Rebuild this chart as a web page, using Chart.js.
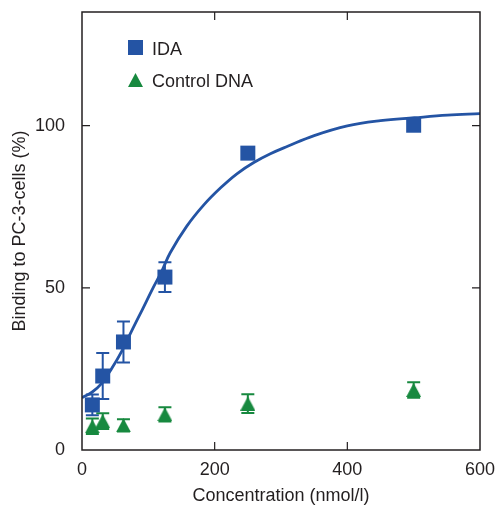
<!DOCTYPE html>
<html>
<head>
<meta charset="utf-8">
<script src="https://cdn.jsdelivr.net/npm/chart.js@4"></script>
<style>
  body { margin: 0; background: #fff; }
  canvas { display: block; }
</style>
</head>
<body>
<canvas id="chartBinding" width="495" height="505"></canvas>
<script>
// concentrations used for both series (nmol/l)
const concentrations = [15.6, 31.25, 62.5, 125, 250, 500];

const idaBinding = [13.9, 22.8, 33.3, 53.3, 91.5, 100.1];
const idaError = [3.2, 7.1, 6.3, 4.6, 1.5, 1];

const controlBinding = [7.3, 8.9, 7.6, 11, 14.3, 18.5];
const controlError = [2.4, 2.4, 1.9, 2.2, 2.9, 2.4];

// fitted curve
const fitX = [0, 15, 30, 45, 60, 76, 91, 106, 120, 133, 158, 183, 209, 234, 259, 284, 310, 350, 400, 450, 501, 551, 600];
const fitY = [16.1, 17.8, 20.6, 25.2, 30.5, 37.2, 43.3, 49.5, 55, 60.8, 69, 75.4, 80.8, 85.2, 88.6, 91.3, 93.6, 96.9, 99.9, 101.5, 102.4, 103.2, 103.7];

const xTicks = [0, 200, 400, 600];
const yTicks = [0, 50, 100];

const blue = '#2454a4';
const green = '#17893f';
const ink = '#231f20';
const fontFamily = '"Liberation Sans", Arial, Helvetica, sans-serif';

function toPoints(xs, ys) {
    return xs.map((x, i) => ({ x: x, y: ys[i] }));
}

// triangle marker centred on its bounding box
function triangleImage(color, w, h) {
    const c = document.createElement('canvas');
    c.width = w;
    c.height = h;
    const g = c.getContext('2d');
    g.fillStyle = color;
    g.beginPath();
    g.moveTo(w / 2, 0);
    g.lineTo(w, h);
    g.lineTo(0, h);
    g.closePath();
    g.fill();
    return c;
}
const triangle = triangleImage(green, 15, 14);

const errorBars = {
    id: 'errorBars',
    beforeDatasetsDraw(chart) {
        const ctx = chart.ctx;
        const xs = chart.scales.x, ys = chart.scales.y;
        ctx.save();
        ctx.lineWidth = 2;
        [[idaBinding, idaError, blue], [controlBinding, controlError, green]].forEach(([vals, errs, color]) => {
            ctx.strokeStyle = color;
            vals.forEach((v, i) => {
                const px = xs.getPixelForValue(concentrations[i]);
                const top = ys.getPixelForValue(v + errs[i]);
                const bot = ys.getPixelForValue(v - errs[i]);
                ctx.beginPath();
                ctx.moveTo(px, top); ctx.lineTo(px, bot);
                ctx.moveTo(px - 6.5, top); ctx.lineTo(px + 6.5, top);
                ctx.moveTo(px - 6.5, bot); ctx.lineTo(px + 6.5, bot);
                ctx.stroke();
            });
        });
        ctx.restore();
    }
};

const frame = {
    id: 'frame',
    afterDatasetsDraw(chart) {
        const ctx = chart.ctx;
        const a = chart.chartArea;
        const xs = chart.scales.x, ys = chart.scales.y;
        ctx.save();
        ctx.strokeStyle = ink;
        ctx.lineWidth = 1.5;
        ctx.strokeRect(a.left, a.top, a.right - a.left, a.bottom - a.top);
        ctx.lineWidth = 1.2;
        ctx.beginPath();
        xTicks.slice(1, -1).forEach(t => {
            const px = xs.getPixelForValue(t);
            ctx.moveTo(px, a.bottom); ctx.lineTo(px, a.bottom - 8);
            ctx.moveTo(px, a.top); ctx.lineTo(px, a.top + 8);
        });
        yTicks.slice(1).forEach(t => {
            const py = ys.getPixelForValue(t);
            ctx.moveTo(a.left, py); ctx.lineTo(a.left + 8, py);
            ctx.moveTo(a.right, py); ctx.lineTo(a.right - 8, py);
        });
        ctx.stroke();
        ctx.restore();
    }
};

const legendBox = {
    id: 'legendBox',
    afterDraw(chart) {
        const ctx = chart.ctx;
        ctx.save();
        ctx.fillStyle = blue;
        ctx.fillRect(128, 40, 15, 15);
        ctx.drawImage(triangle, 128, 73);
        ctx.fillStyle = ink;
        ctx.font = '18px ' + fontFamily;
        ctx.textBaseline = 'alphabetic';
        ctx.fillText('IDA', 152, 55);
        ctx.fillText('Control DNA', 152, 87);
        ctx.restore();
    }
};

const ctxBinding = document.getElementById('chartBinding').getContext('2d');

new Chart(ctxBinding, {
    type: 'scatter',
    data: {
        datasets: [
            {
                label: 'fit',
                type: 'line',
                data: toPoints(fitX, fitY),
                borderColor: blue,
                borderWidth: 2.8,
                pointRadius: 0,
                tension: 0.4,
                fill: false,
                order: 3
            },
            {
                label: 'Control DNA',
                data: toPoints(concentrations, controlBinding),
                pointStyle: triangle,
                pointRadius: 8,
                order: 2
            },
            {
                label: 'IDA',
                data: toPoints(concentrations, idaBinding),
                pointStyle: 'rect',
                pointRadius: 10.6,
                pointBorderWidth: 0,
                backgroundColor: blue,
                order: 1
            }
        ]
    },
    options: {
        responsive: false,
        animation: false,
        layout: { padding: { top: 12, right: 15, left: 0, bottom: 0 } },
        plugins: { legend: { display: false }, tooltip: { enabled: false } },
        scales: {
            x: {
                type: 'linear',
                min: 0, max: 600,
                afterFit(s) { s.height = 55; s.paddingLeft = 0; s.paddingRight = 0; },
                grid: { display: false },
                border: { display: false },
                ticks: { stepSize: 200, padding: 1, color: ink, font: { family: fontFamily, size: 18 } },
                title: { display: true, text: 'Concentration (nmol/l)', color: ink, padding: { top: 0, bottom: -2 }, font: { family: fontFamily, size: 18 } }
            },
            y: {
                min: 0, max: 135,
                afterFit(s) { s.width = 82; s.paddingTop = 0; s.paddingBottom = 0; },
                grid: { display: false },
                border: { display: false },
                ticks: { stepSize: 50, includeBounds: false, padding: 9, color: ink, font: { family: fontFamily, size: 18 } },
                title: { display: true, text: 'Binding to PC-3-cells (%)', color: ink, padding: { top: 9, bottom: 0 }, font: { family: fontFamily, size: 18 } }
            }
        }
    },
    plugins: [errorBars, frame, legendBox]
});
</script>
</body>
</html>
